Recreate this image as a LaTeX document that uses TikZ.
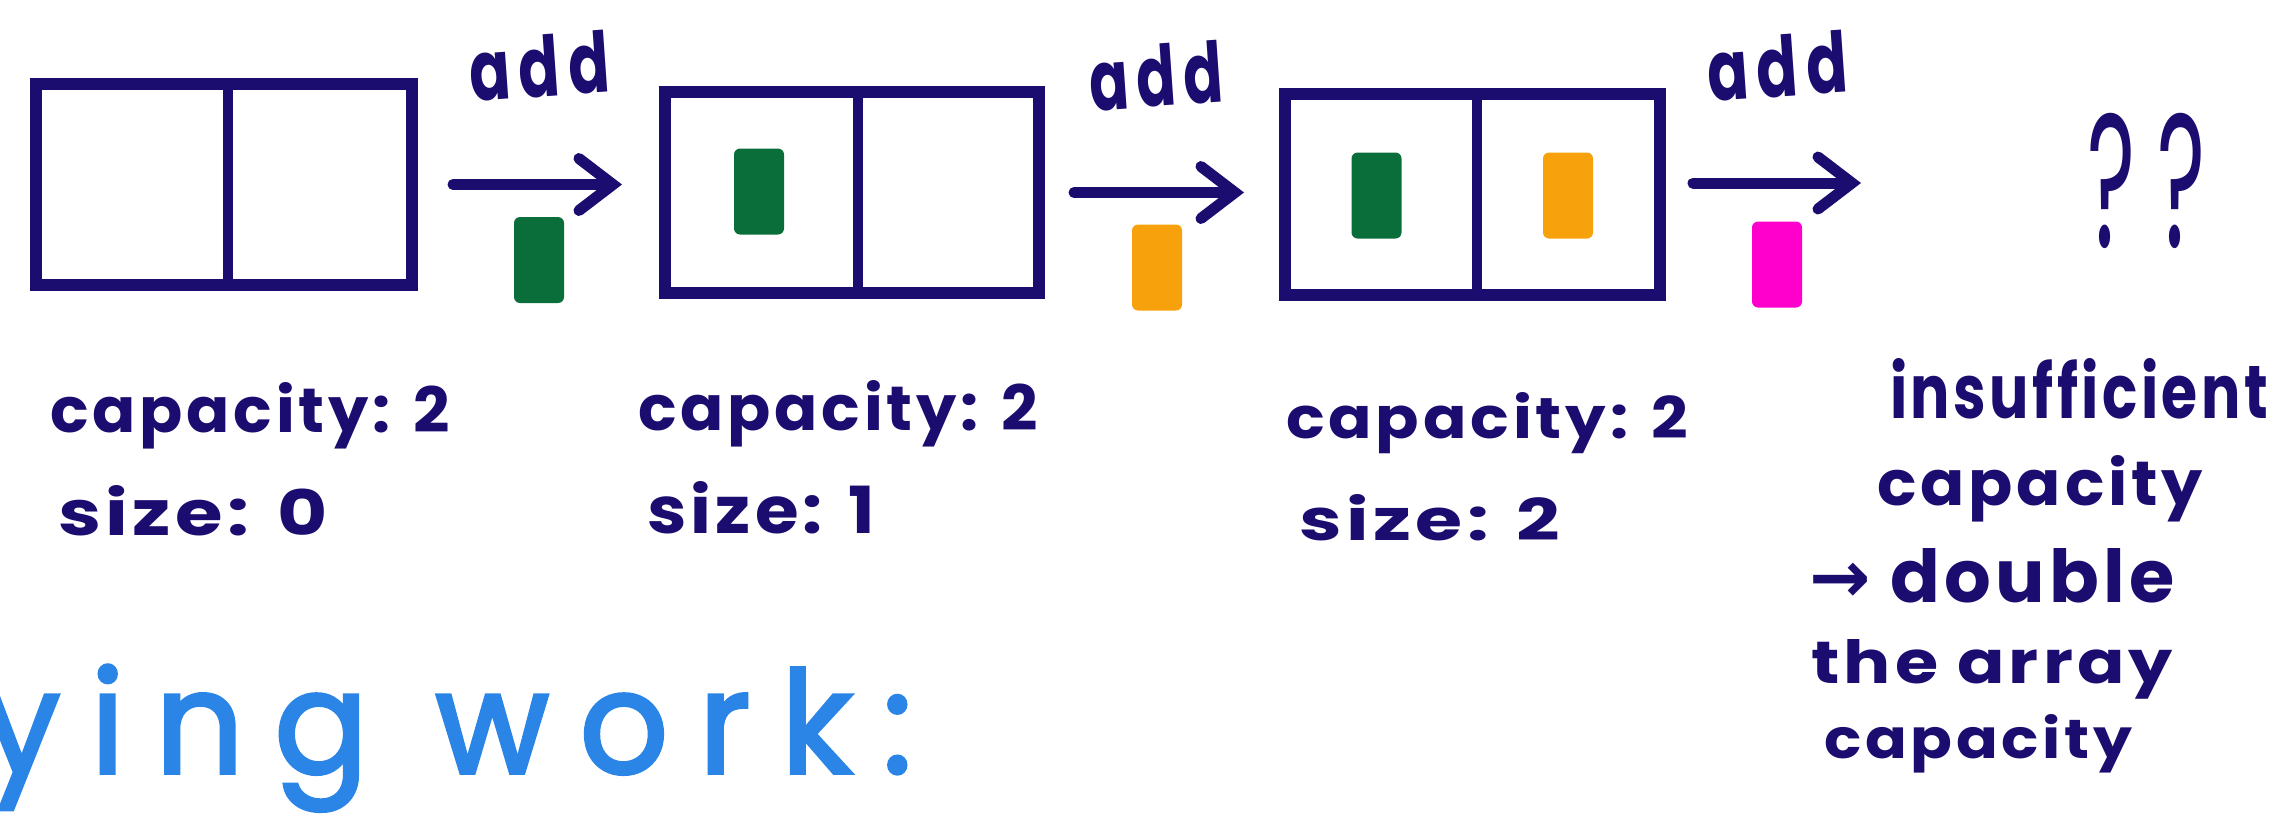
\documentclass[tikz,border=0pt]{standalone}
\usepackage{fontspec}
\setmainfont{Poppins}
\newfontfamily\hand[LetterSpace=6]{Poppins}
\newfontfamily\handadd[LetterSpace=14]{Poppins}
\newfontfamily\handwide[LetterSpace=24]{Poppins}
\newfontfamily\headfont[LetterSpace=22,FakeBold=2.5]{Poppins}
\newfontfamily\symfont{DejaVu Sans}
\usetikzlibrary{arrows.meta,calc}
\definecolor{navy}{RGB}{27,12,112}
\definecolor{blkgreen}{RGB}{10,110,58}
\definecolor{blkorange}{RGB}{247,161,12}
\definecolor{blkmagenta}{RGB}{255,0,204}
\definecolor{skyblue}{RGB}{43,133,230}
\newcommand{\fitt}[3]{\resizebox{#1pt}{#2pt}{#3}}
\tikzset{
  arraybox/.style={draw=navy, line width=12pt, minimum width=370pt, minimum height=201pt, inner sep=0pt, outer sep=0pt},
  divider/.style={draw=navy, line width=10pt},
  block/.style={rounded corners=6pt, inner sep=0pt, outer sep=0pt, minimum width=50pt, minimum height=86pt},
  conn/.style={draw=navy, line width=11pt, line cap=round, -{Straight Barb[length=34pt, width=52pt, line cap=round]}},
  txt/.style={text=navy, inner sep=0pt, outer sep=0pt, font=\hand\bfseries},
  addlbl/.style={text=navy, inner sep=0pt, font=\handadd\bfseries, rotate=4}
}
\begin{document}
\begin{tikzpicture}[x=1pt,y=-1pt]
\useasboundingbox (0,0) rectangle (2274,815);
% arrays
\node[arraybox, minimum width=376pt] (b1) at (224,184.5) {};
\node[arraybox, minimum width=374pt] (b2) at (852,192.5) {};
\node[arraybox, minimum width=375pt] (b3) at (1472.5,194.5) {};
\draw[divider] ([xshift=4pt]b1.north) -- ([xshift=4pt]b1.south);
\draw[divider] ([xshift=6pt]b2.north) -- ([xshift=6pt]b2.south);
\draw[divider] ([xshift=4.5pt]b3.north) -- ([xshift=4.5pt]b3.south);
% blocks inside arrays
\node[block, fill=blkgreen] (g2) at (759,191.5) {};
\node[block, fill=blkgreen] (g3) at (1376.5,195.5) {};
\node[block, fill=blkorange] (o2) at (1568,195.5) {};
% blocks being added
\node[block, fill=blkgreen] (g1) at (539,260) {};
\node[block, fill=blkorange] (o1) at (1157,267.5) {};
\node[block, fill=blkmagenta] (m1) at (1777,264.5) {};
% arrows
\coordinate (a3e) at (1861,183);
\draw[conn, shorten <=41pt, shorten >=43pt] (b1.east) -- (b1.east -| b2.west);
\draw[conn, shorten <=35pt, shorten >=41pt] (b2.east) -- (b2.east -| b3.west);
\draw[conn, shorten <=33pt] ([yshift=11.5pt]b3.east) -- (a3e);
% add labels
\node[addlbl] (add1) at (539,66) {\fitt{140}{62}{add}};
\node[addlbl] (add2) at (1156,76) {\fitt{134}{62}{add}};
\node[addlbl] (add3) at (1777,66) {\fitt{140}{62}{add}};
% question marks
\node[text=navy, inner sep=0pt, font=\handwide, anchor=base] (qq) at (2146,247) {\fitt{118}{134}{??}};
% capacity / size labels
\node[txt, anchor=base west] (c1) at (50,432) {\fitt{400}{50}{capacity: 2}};
\node[txt, anchor=base west] (s1) at (58,535) {\fitt{270}{50}{size: 0}};
\node[txt, anchor=base west] (c2) at (638,430) {\fitt{400}{50}{capacity: 2}};
\node[txt, anchor=base west] (s2) at (647,533) {\fitt{228}{52}{size: 1}};
\node[txt, anchor=base west] (c3) at (1286,438) {\fitt{402}{46}{capacity: 2}};
\node[txt, anchor=base west] (s3) at (1299,540) {\fitt{261}{46}{size: 2}};
% note on the right
\node[txt, anchor=base west] (r1) at (1890,418) {\fitt{378}{60}{insufficient}};
\node[txt, anchor=base west] (r2) at (1877,505) {\fitt{326}{50}{capacity}};
\node[txt, anchor=base west] (r3) at (1809,602) {\fitt{366}{54}{{\symfont →} double}};
\node[txt, anchor=base west] (r4) at (1811,683) {\fitt{362}{44}{the array}};
\node[txt, anchor=base west] (r5) at (1824,758) {\fitt{308}{44}{capacity}};
% blue heading (cut off at the left edge)
\node[anchor=base west, inner sep=0pt, text=skyblue, font=\headfont] (hd) at (-18,773) {\fitt{930}{108}{ying work:}};
\end{tikzpicture}
\end{document}
